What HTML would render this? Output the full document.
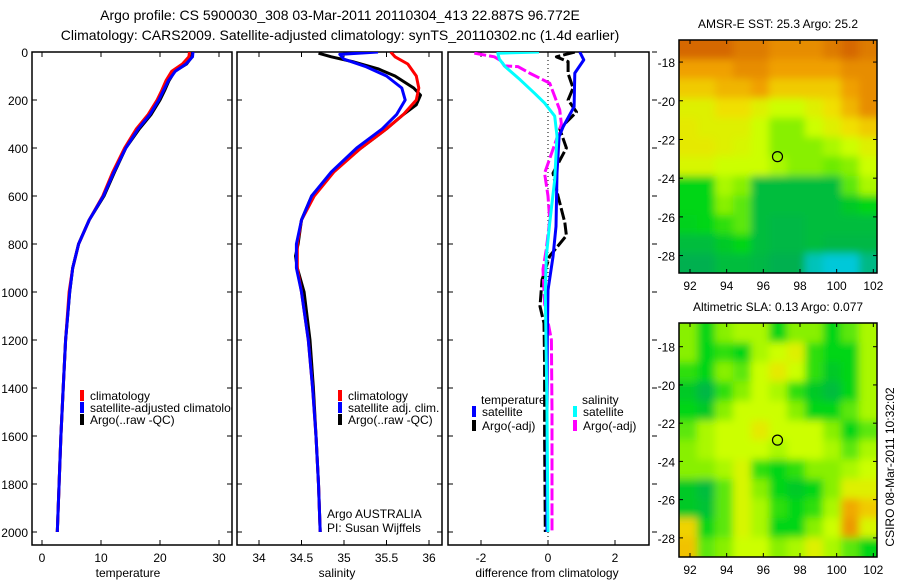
<!DOCTYPE html>
<html><head><meta charset="utf-8"><style>
body{margin:0;background:#fff}
svg text{font-family:"Liberation Sans",sans-serif;fill:#000}
</style></head><body>
<svg id="fig" width="900" height="580" xmlns="http://www.w3.org/2000/svg">
<defs><filter id="blur" x="-5%" y="-5%" width="110%" height="110%"><feGaussianBlur stdDeviation="4"/></filter></defs>
<text x="340" y="20" font-size="14" text-anchor="middle">Argo profile: CS 5900030_308 03-Mar-2011 20110304_413 22.887S 96.772E</text>
<text x="340" y="40" font-size="14" text-anchor="middle">Climatology: CARS2009. Satellite-adjusted climatology: synTS_20110302.nc (1.4d earlier)</text>
<g id="g"></g>
</svg>
<script>
// ---- data ----
const tDepth=[0,20,50,80,120,160,200,260,320,400,500,600,700,800,900,1000,1200,1400,1600,1800,2000];
const tClim=[25.0,24.9,23.8,22.0,21.0,20.3,19.5,18.0,16.0,14.0,12.0,10.3,8.0,6.2,5.2,4.6,4.0,3.6,3.2,2.9,2.6];
const tSat=[25.6,25.5,24.4,22.6,21.4,20.6,19.8,18.3,16.3,14.2,12.2,10.4,8.0,6.2,5.2,4.7,4.0,3.6,3.2,2.9,2.6];
const tArgo=[25.5,25.4,24.5,22.5,21.5,20.8,20.0,18.5,16.5,14.2,12.3,10.5,8.0,6.2,5.2,4.7,4.0,3.6,3.2,2.9,2.6];
const sDepthC=[0,20,50,100,150,200,260,320,400,500,600,700,800,900,1000,1200,1400,1600,1800,2000];
const sClim=[35.55,35.6,35.75,35.85,35.88,35.85,35.7,35.5,35.2,34.88,34.65,34.5,34.45,34.45,34.5,34.58,34.63,34.67,34.7,34.72];
const sDepthS=[0,10,30,60,100,150,200,260,320,400,500,600,700,800,900,1000,1200,1400,1600,1800,2000];
const sSat=[35.4,34.95,35.0,35.25,35.5,35.68,35.72,35.62,35.45,35.15,34.85,34.62,34.5,34.44,34.44,34.5,34.58,34.63,34.67,34.7,34.72];
const sDepthA=[5,20,40,70,100,150,180,220,260,320,400,500,600,700,800,850,900,1000,1200,1400,1600,1800,2000];
const sArgo=[34.7,34.85,35.1,35.4,35.6,35.82,35.9,35.85,35.7,35.5,35.2,34.86,34.62,34.5,34.46,34.43,34.45,34.53,34.6,34.64,34.67,34.7,34.72];
const dDepthTS=[0,33,88,228,312,352,505,727,853,992,1200,1500,2000];
const dTSat=[0.95,1.07,0.8,0.78,0.45,0.33,0.27,0.24,0.15,0.0,-0.02,-0.03,-0.03];
const dDepthTA=[0,20,40,90,150,200,250,320,400,505,600,710,765,850,950,1060,1130,1300,1600,2000];
const dTArgo=[0.8,0.25,0.6,0.6,0.75,0.6,0.85,0.35,0.55,0.15,0.3,0.5,0.55,0.05,-0.18,-0.24,-0.12,-0.1,-0.1,-0.08];
const dDepthSS=[0,5,30,61,116,172,213,267,350,533,713,853,1000,1500,2000];
const dSSat=[-0.27,-1.5,-1.45,-1.28,-0.83,-0.4,-0.1,0.2,0.27,0.2,0.05,-0.05,-0.08,-0.03,0.0];
const dDepthSA=[5,20,37,58,61,88,130,185,241,300,365,505,600,700,822,905,1050,1200,1500,2000];
const dSArgo=[-2.2,-1.6,-1.4,-1.3,-0.9,-0.55,0.05,0.2,0.35,0.4,0.25,-0.1,0.0,0.05,-0.05,-0.15,-0.1,0.1,0.12,0.12];
const depthTicks=[0,200,400,600,800,1000,1200,1400,1600,1800,2000];
const tTicks=[0,10,20,30];
const sTicks=[34,34.5,35,35.5,36];
const dTicks=[-2,0,2];
const lonTicks=[92,94,96,98,100,102];
const latTicksA=[-18,-20,-22,-24,-26,-28];
const latTicksB=[-16,-18,-20,-22,-24,-26,-28];
const sst=[
[0.95,0.95,0.95,0.9,0.9,0.85,0.85,0.85,0.9,0.95,0.9],
[0.8,0.8,0.8,0.85,0.85,0.8,0.8,0.8,0.8,0.85,0.85],
[0.7,0.7,0.75,0.75,0.8,0.7,0.7,0.7,0.7,0.8,0.85],
[0.6,0.6,0.65,0.65,0.6,0.55,0.55,0.6,0.65,0.75,0.85],
[0.62,0.6,0.6,0.6,0.55,0.45,0.45,0.55,0.6,0.65,0.7],
[0.62,0.62,0.6,0.58,0.55,0.45,0.45,0.45,0.5,0.55,0.6],
[0.58,0.58,0.55,0.55,0.55,0.5,0.45,0.45,0.42,0.45,0.55],
[0.3,0.3,0.5,0.45,0.2,0.2,0.2,0.2,0.2,0.4,0.5],
[0.3,0.3,0.45,0.4,0.2,0.2,0.2,0.2,0.2,0.25,0.3],
[0.28,0.3,0.35,0.4,0.2,0.18,0.18,0.2,0.2,0.2,0.2],
[0.2,0.2,0.25,0.3,0.2,0.18,0.18,0.2,0.18,0.18,0.18],
[0.15,0.15,0.2,0.2,0.18,0.15,0.15,0.05,0.02,0.02,0.1]];
const sla=[
[0.45,0.3,0.45,0.5,0.5,0.3,0.45,0.45,0.3,0.4,0.5],
[0.45,0.3,0.35,0.3,0.5,0.55,0.6,0.35,0.3,0.3,0.5],
[0.35,0.3,0.45,0.4,0.55,0.62,0.55,0.35,0.25,0.3,0.5],
[0.25,0.18,0.35,0.45,0.55,0.5,0.35,0.25,0.2,0.3,0.5],
[0.3,0.25,0.45,0.55,0.55,0.55,0.45,0.3,0.3,0.4,0.5],
[0.4,0.5,0.55,0.55,0.62,0.55,0.55,0.55,0.45,0.3,0.4],
[0.45,0.5,0.55,0.55,0.55,0.5,0.55,0.55,0.5,0.4,0.5],
[0.45,0.45,0.5,0.58,0.35,0.3,0.35,0.45,0.45,0.5,0.55],
[0.25,0.2,0.4,0.58,0.45,0.3,0.25,0.3,0.45,0.6,0.6],
[0.25,0.22,0.4,0.58,0.5,0.35,0.3,0.35,0.5,0.78,0.7],
[0.68,0.3,0.4,0.58,0.5,0.3,0.3,0.45,0.55,0.82,0.58],
[0.72,0.4,0.45,0.55,0.55,0.45,0.5,0.6,0.5,0.4,0.3]];
const argoLon=96.772, argoLat=-22.887;

// ---- helpers ----
const NS='http://www.w3.org/2000/svg', G=document.getElementById('g');
function mk(tag,attrs,parent){const e=document.createElementNS(NS,tag);for(const k in attrs)e.setAttribute(k,attrs[k]);(parent||G).appendChild(e);return e;}
const yD=d=>52+d*0.24;
function frame(x0,x1,y0,y1,name){const r=mk('rect',{x:x0,y:y0,width:x1-x0,height:y1-y0,fill:'none',stroke:'#000','stroke-width':1.5});

}
function txt(x,y,s,size,anchor,name){const t=mk('text',{x:x,y:y,'font-size':size,'text-anchor':anchor||'start'});t.textContent=s;

return t;}
function xticks(xf,ticks,y0,y1,name){ticks.forEach(v=>{const x=xf(v);mk('line',{x1:x,x2:x,y1:y1,y2:y1-5,stroke:'#000'});mk('line',{x1:x,x2:x,y1:y0,y2:y0+5,stroke:'#000'});txt(x,y1+17,String(v),12,'middle',name);});}
function yticks(x0,x1,outRight){depthTicks.forEach(d=>{const y=yD(d);mk('line',{x1:x0,x2:x0+5,y1:y,y2:y,stroke:'#000'});if(outRight)mk('line',{x1:x1+3,x2:x1+8,y1:y,y2:y,stroke:'#000'});else mk('line',{x1:x1,x2:x1-5,y1:y,y2:y,stroke:'#000'});});}
function legend(x,y,color,label){mk('rect',{x:x,y:y-10,width:4,height:11,fill:color});txt(x+10,y,label,12,'start','legend-entry');}
function lineIn(g,xf,xs,ds,color,name,dash){const pts=xs.map((v,i)=>xf(v).toFixed(1)+','+yD(ds[i]).toFixed(1)).join(' ');
const p=mk('polyline',{points:pts,fill:'none',stroke:color,'stroke-width':3,'stroke-linejoin':'round'},g);if(dash)p.setAttribute('stroke-dasharray',dash);

}

const clip1=mk('clipPath',{id:'c1'});mk('rect',{x:32,y:52,width:200,height:493},clip1);
const clip2=mk('clipPath',{id:'c2'});mk('rect',{x:237,y:52,width:205,height:493},clip2);
const clip3=mk('clipPath',{id:'c3'});mk('rect',{x:448,y:52,width:201,height:493},clip3);

// ---- panel 1: temperature ----
const xT=t=>42+5.9*t;
frame(32,232,52,545,'temperature-axes');
yticks(32,232,false);
depthTicks.forEach(d=>txt(28,yD(d)+5,String(d),12,'end','depth-tick-label'));
xticks(xT,tTicks,52,545,'temperature-tick-label');
txt(128,577,'temperature',12,'middle','x-axis-title-temperature');
let gc=mk('g',{'clip-path':'url(#c1)'});
lineIn(gc,xT,tArgo,tDepth,'#000','argo-temperature-line');
lineIn(gc,xT,tClim,tDepth,'#ff0000','climatology-temperature-line');
lineIn(gc,xT,tSat,tDepth,'#0000ff','satellite-temperature-line');
const lg1=mk('g',{'clip-path':'url(#c1)'});
[['#ff0000','climatology'],['#0000ff','satellite-adjusted climatology'],['#000','Argo(..raw -QC)']].forEach((e,i)=>{mk('rect',{x:80,y:390+i*12,width:4,height:11,fill:e[0]},lg1);const t=mk('text',{x:90,y:400+i*12,'font-size':12},lg1);t.textContent=e[1];

});

// ---- panel 2: salinity ----
const xS=s=>259+85*(s-34);
frame(237,442,52,545,'salinity-axes');
yticks(237,442,false);
xticks(xS,sTicks,52,545,'salinity-tick-label');
txt(337,577,'salinity',12,'middle','x-axis-title-salinity');
gc=mk('g',{'clip-path':'url(#c2)'});
lineIn(gc,xS,sArgo,sDepthA,'#000','argo-salinity-line');
lineIn(gc,xS,sClim,sDepthC,'#ff0000','climatology-salinity-line');
lineIn(gc,xS,sSat,sDepthS,'#0000ff','satellite-salinity-line');
[['#ff0000','climatology'],['#0000ff','satellite adj. clim.'],['#000','Argo(..raw -QC)']].forEach((e,i)=>legend(338,400+i*12,e[0],e[1]));
txt(327,518,'Argo AUSTRALIA',12,'start','argo-agency-label');
txt(327,532,'PI: Susan Wijffels',12,'start','pi-label');

// ---- panel 3: difference ----
const xDf=v=>548+33.5*v;
frame(448,649,52,545,'difference-axes');
yticks(448,649,true);
xticks(xDf,dTicks,52,545,'difference-tick-label');
txt(547,577,'difference from climatology',12,'middle','x-axis-title-difference');
const zl=mk('line',{x1:xDf(0),x2:xDf(0),y1:52,y2:545,stroke:'#000','stroke-dasharray':'1,3'});


gc=mk('g',{'clip-path':'url(#c3)'});
lineIn(gc,xDf,dTArgo,dDepthTA,'#000','argo-temperature-diff-line','12,3');
lineIn(gc,xDf,dSArgo,dDepthSA,'#ff00ff','argo-salinity-diff-line','12,3');
lineIn(gc,xDf,dTSat,dDepthTS,'#0000ff','satellite-temperature-diff-line');
lineIn(gc,xDf,dSSat,dDepthSS,'#00ffff','satellite-salinity-diff-line');
txt(481,404,'temperature',12,'start','legend-title-temperature');
legend(472,416,'#0000ff','satellite');legend(472,430,'#000','Argo(-adj)');
txt(582,404,'salinity',12,'start','legend-title-salinity');
legend(573,416,'#00ffff','satellite');legend(573,430,'#ff00ff','Argo(-adj)');

// ---- maps ----
const stops=[[0,[0,204,238]],[0.15,[0,176,80]],[0.3,[0,214,20]],[0.45,[136,240,0]],[0.55,[204,255,0]],[0.65,[240,224,0]],[0.8,[240,160,0]],[1,[204,85,0]]];
function cmap(v){for(let i=1;i<stops.length;i++){if(v<=stops[i][0]){const a=stops[i-1],b=stops[i],f=(v-a[0])/(b[0]-a[0]);return 'rgb('+a[1].map((c,k)=>Math.round(c+(b[1][k]-c)*f)).join(',')+')';}}return 'rgb(204,85,0)';}
let mapId=0;
function map(grid,top,bot,latTop,latBot,latTicks,title,name){
  const x0=679,x1=877,lon0=91.4,lon1=102.2;
  const xL=l=>x0+(l-lon0)*(x1-x0)/(lon1-lon0), yL=l=>top+(latTop-l)*(bot-top)/(latTop-latBot);
  const rows=grid.length,cols=grid[0].length,cw=(x1-x0)/cols,ch=(bot-top)/rows;
  const cid='mc'+(mapId++);
  const cp=mk('clipPath',{id:cid});mk('rect',{x:x0,y:top,width:x1-x0,height:bot-top},cp);
  const outer=mk('g',{'clip-path':'url(#'+cid+')'});
  const g=mk('g',{filter:'url(#blur)'},outer);
  grid.forEach((row,r)=>row.forEach((v,c)=>{
    const ex0=c===0?-8:0, ey0=r===0?-8:0, ex1=c===cols-1?8:0, ey1=r===rows-1?8:0;
    const cell=mk('rect',{x:(x0+c*cw+ex0).toFixed(2),y:(top+r*ch+ey0).toFixed(2),width:(cw+0.6-ex0+ex1).toFixed(2),height:(ch+0.6-ey0+ey1).toFixed(2),fill:cmap(v)},g);
    
    }));
  frame(x0,x1,top,bot,name+'-frame');
  lonTicks.forEach(l=>{const x=xL(l);mk('line',{x1:x,x2:x,y1:bot,y2:bot-4,stroke:'#000'});mk('line',{x1:x,x2:x,y1:top,y2:top+4,stroke:'#000'});txt(x,bot+17,String(l),12,'middle','lon-tick-label');});
  latTicks.forEach(l=>{const y=yL(l);if(y<top||y>bot)return;mk('line',{x1:x1,x2:x1-4,y1:y,y2:y,stroke:'#000'});mk('line',{x1:x0,x2:x0+4,y1:y,y2:y,stroke:'#000'});txt(x0-4,y+5,String(l),12,'end','lat-tick-label');});
  const m=mk('circle',{cx:xL(argoLon),cy:yL(argoLat),r:5,fill:'none',stroke:'#000','stroke-width':1.2});
  
  
  txt(778,top-12,title,12,'middle',name+'-title');
}
map(sst,40,273,-16.86,-28.9,latTicksA,'AMSR-E SST: 25.3 Argo: 25.2','sst-map');
map(sla,323,557,-16.76,-29.0,latTicksB,'Altimetric SLA: 0.13 Argo: 0.077','sla-map');
const ts=txt(0,0,'CSIRO 08-Mar-2011 10:32:02',12,'middle','timestamp-label');
ts.setAttribute('transform','translate(894,467) rotate(-90)');
</script>
</body></html>
